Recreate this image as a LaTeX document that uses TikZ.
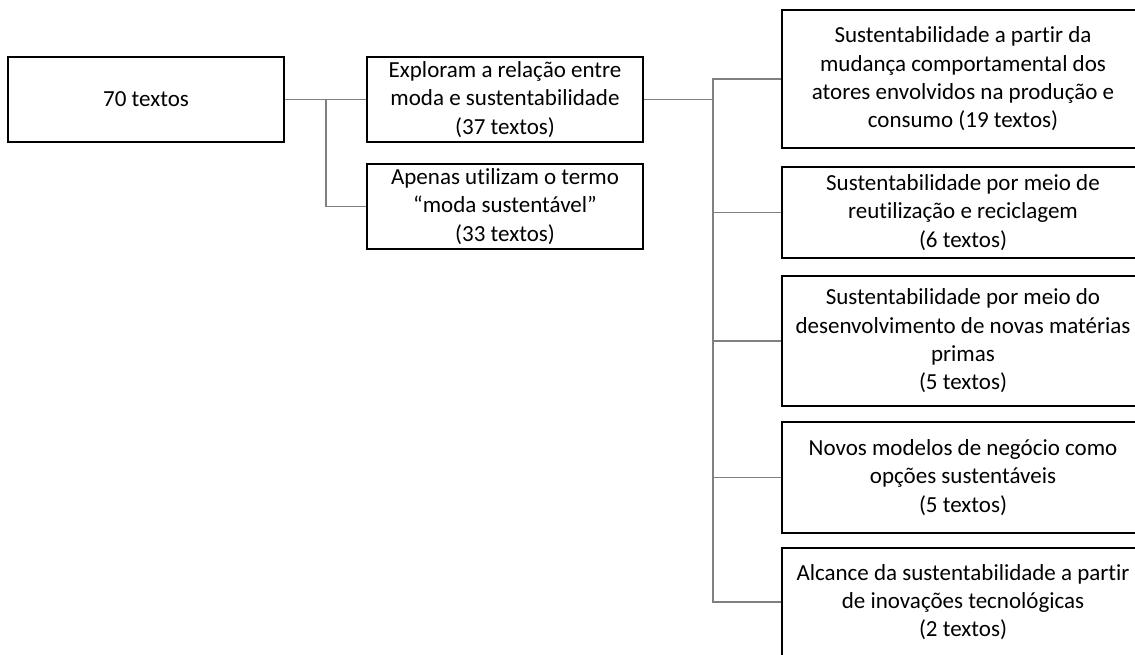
\documentclass[tikz,border=0pt]{standalone}
\usepackage{fontspec}
\setmainfont{Carlito}[RawFeature=-liga]
\begin{document}
\begin{tikzpicture}[x=1pt,y=-1pt,
  box/.style={draw=black,line width=2.4pt,fill=white,align=center,inner sep=0pt,
    font=\fontsize{23}{28.3}\selectfont},
  conn/.style={draw=black!50,line width=1.2pt}]
\useasboundingbox (0,0) rectangle (1135,655);
\clip (0,0) rectangle (1135,655);
\node[box,minimum width=276,minimum height=85] (A) at (146,99.5) {70 textos};
\node[box,minimum width=276,minimum height=85] (B) at (505,99.5) {Exploram a relação entre\\moda e sustentabilidade\\(37 textos)};
\node[box,minimum width=276,minimum height=85] (C) at (505,206.5) {Apenas utilizam o termo\\“moda sustentável”\\(33 textos)};
\node[box,minimum width=362,minimum height=138] (R1) at (963,79) {Sustentabilidade a partir da\\mudança comportamental dos\\atores envolvidos na produção e\\consumo (19 textos)};
\node[box,minimum width=362,minimum height=91] (R2) at (963,212.5) {Sustentabilidade por meio de\\reutilização e reciclagem\\(6 textos)};
\node[box,minimum width=362,minimum height=130] (R3) at (963,341) {Sustentabilidade por meio do\\desenvolvimento de novas matérias\\primas\\(5 textos)};
\node[box,minimum width=362,minimum height=111] (R4) at (963,477.5) {Novos modelos de negócio como\\opções sustentáveis\\(5 textos)};
\node[box,minimum width=362,minimum height=108] (R5) at (963,602) {Alcance da sustentabilidade a partir\\de inovações tecnológicas\\(2 textos)};
\coordinate (j1) at (326,99.5);
\coordinate (j2) at (713,99.5);
\draw[conn] (A.east) -- (B.west);
\draw[conn] (j1) |- (C.west);
\draw[conn] (B.east) -- (j2);
\draw[conn] (j2) |- (R1.west);
\draw[conn] (j2) |- (R2.west);
\draw[conn] (j2) |- (R3.west);
\draw[conn] (j2) |- (R4.west);
\draw[conn] (j2) |- (R5.west);
\end{tikzpicture}
\end{document}
